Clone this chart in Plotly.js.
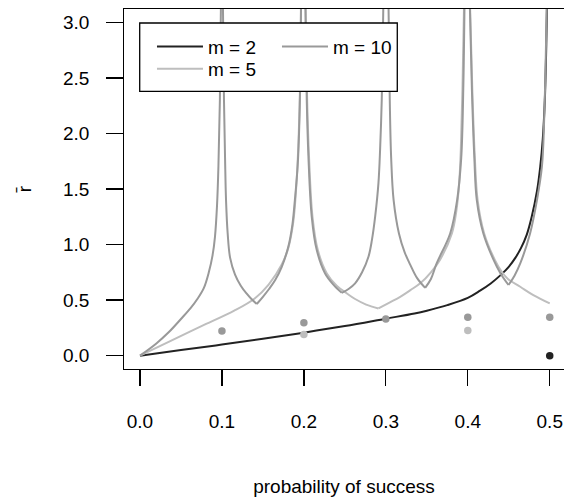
<!DOCTYPE html>
<html><head><meta charset="utf-8">
<script src="https://cdn.plot.ly/plotly-3.0.1.min.js"></script>
<style>html,body{margin:0;padding:0;background:#fff}#chart{width:564px;height:502px}</style>
</head><body><div id="chart"></div>
<script>
// m = 2 curve (value undefined at p = 0.5)
const p2 = [0, 0.05, 0.1, 0.15, 0.2, 0.25, 0.3, 0.335, 0.35, 0.375, 0.4, 0.415, 0.428, 0.44, 0.45, 0.458, 0.465, 0.472, 0.478, 0.4844, 0.4884, 0.4915, 0.494, 0.4958, 0.497, 0.5];
const r2 = [0, 0.05, 0.10, 0.152, 0.207, 0.266, 0.333, 0.38, 0.405, 0.455, 0.52, 0.585, 0.65, 0.725, 0.80, 0.88, 0.97, 1.09, 1.25, 1.48, 1.70, 1.95, 2.3, 2.8, 3.3, null];
// m = 5 curve, branches separated by null (spikes at 0.2, 0.4)
const p5 = [0, 0.035, 0.075, 0.115, 0.140, 0.157, 0.173, 0.181, 0.187, 0.1905, 0.193, 0.1955, 0.1965, 0.2,
  0.2018, 0.204, 0.2062, 0.2105, 0.217, 0.228, 0.24, 0.2525, 0.2625, 0.276, 0.291, 0.291,
  0.291, 0.305, 0.3175, 0.33, 0.342, 0.355, 0.366, 0.3806, 0.386, 0.3895, 0.3915, 0.3935, 0.3958, 0.4,
  0.4022, 0.4055, 0.4085, 0.412, 0.420, 0.433, 0.441, 0.449, 0.464, 0.480, 0.5];
const r5 = [0, 0.125, 0.265, 0.405, 0.515, 0.64, 0.82, 0.97, 1.2, 1.5, 1.85, 2.5, 3.3, null,
  3.3, 2.3, 1.80, 1.25, 0.95, 0.74, 0.63, 0.56, 0.51, 0.46, 0.425, null,
  0.425, 0.48, 0.53, 0.59, 0.651, 0.75, 0.862, 1.10, 1.30, 1.555, 1.856, 2.4, 3.3, null,
  3.3, 2.4, 1.80, 1.40, 1.10, 0.862, 0.76, 0.69, 0.62, 0.545, 0.47];
// m = 10 curve, branches separated by null (spikes at 0.1 ... 0.5, cusps between)
const p10 = [0, 0.02, 0.035, 0.05, 0.062, 0.07, 0.078, 0.084, 0.0885, 0.0915, 0.094, 0.0957, 0.0975, 0.099, 0.1,
  0.101, 0.1025, 0.1038, 0.105, 0.107, 0.110, 0.116, 0.123, 0.130, 0.136, 0.1425, 0.1425,
  0.1425, 0.150, 0.1575, 0.165, 0.173, 0.181, 0.186, 0.189, 0.1925, 0.195, 0.1967, 0.2,
  0.2016, 0.2035, 0.2055, 0.2096, 0.2157, 0.2259, 0.236, 0.2462, 0.2462,
  0.2462, 0.2545, 0.2625, 0.271, 0.2788, 0.283, 0.287, 0.291, 0.293, 0.295, 0.2972, 0.3,
  0.303, 0.3048, 0.3065, 0.3095, 0.316, 0.323, 0.3297, 0.338, 0.348, 0.348,
  0.348, 0.355, 0.362, 0.3785, 0.387, 0.392, 0.3945, 0.3962, 0.4,
  0.402, 0.405, 0.408, 0.411, 0.419, 0.4315, 0.4396, 0.4497, 0.4497,
  0.4497, 0.457, 0.464, 0.476, 0.4844, 0.4905, 0.4935, 0.4967, 0.5];
const r10 = [0, 0.11, 0.21, 0.33, 0.43, 0.51, 0.61, 0.75, 0.90, 1.07, 1.35, 1.7, 2.3, 3.3, null,
  3.3, 2.3, 1.78, 1.40, 1.10, 0.88, 0.73, 0.63, 0.56, 0.51, 0.465, null,
  0.465, 0.53, 0.60, 0.68, 0.80, 0.98, 1.18, 1.40, 1.72, 2.25, 3.3, null,
  3.3, 2.3, 1.80, 1.25, 0.95, 0.74, 0.64, 0.566, null,
  0.566, 0.60, 0.651, 0.75, 0.89, 1.04, 1.253, 1.555, 1.856, 2.3, 3.3, null,
  3.3, 2.3, 1.78, 1.40, 1.10, 0.93, 0.82, 0.70, 0.61, null,
  0.61, 0.69, 0.83, 1.10, 1.40, 1.78, 2.4, 3.3, null,
  3.3, 2.4, 1.78, 1.40, 1.10, 0.862, 0.745, 0.636, null,
  0.636, 0.72, 0.83, 1.10, 1.40, 1.705, 2.2, 3.3, null];
// points
const dotP2 = [0.5], dotR2 = [0];
const dotP5 = [0.2, 0.4], dotR5 = [0.19, 0.226];
const dotP10 = [0.1, 0.2, 0.3, 0.4, 0.5], dotR10 = [0.222, 0.297, 0.331, 0.346, 0.346];
const xTicks = [0, 0.1, 0.2, 0.3, 0.4, 0.5];
const xTickText = ['0.0', '0.1', '0.2', '0.3', '0.4', '0.5'];
const yTicks = [0, 0.5, 1, 1.5, 2, 2.5, 3];
const yTickText = ['0.0', '0.5', '1.0', '1.5', '2.0', '2.5', '3.0'];
const names = ['m = 2', 'm = 5', 'm = 10'];

const C2 = '#222222', C5 = '#bebebe', C10 = '#999999';
const FONT = 'Liberation Sans, Arial, Helvetica, sans-serif';

const traces = [
  {x: p2, y: r2, type: 'scatter', mode: 'lines', name: names[0], line: {color: C2, width: 2, shape: 'spline', smoothing: 1}, legend: 'legend', hoverinfo: 'skip'},
  {x: p5, y: r5, type: 'scatter', mode: 'lines', name: names[1], line: {color: C5, width: 2, shape: 'spline', smoothing: 1}, legend: 'legend3', hoverinfo: 'skip'},
  {x: p10, y: r10, type: 'scatter', mode: 'lines', name: names[2], line: {color: C10, width: 2, shape: 'spline', smoothing: 1}, legend: 'legend2', hoverinfo: 'skip'},
  {x: dotP2, y: dotR2, type: 'scatter', mode: 'markers', marker: {color: C2, size: 7.5}, showlegend: false},
  {x: dotP5, y: dotR5, type: 'scatter', mode: 'markers', marker: {color: C5, size: 7.5}, showlegend: false},
  {x: dotP10, y: dotR10, type: 'scatter', mode: 'markers', marker: {color: C10, size: 7.5}, showlegend: false}
];

const legBase = {xanchor: 'left', yanchor: 'middle', bgcolor: 'rgba(0,0,0,0)', borderwidth: 0,
  font: {family: FONT, size: 19, color: '#000'}, itemwidth: 46};

const layout = {
  width: 564, height: 502,
  margin: {l: 124, r: 0, t: 9, b: 133, pad: 0},
  paper_bgcolor: '#fff', plot_bgcolor: '#fff',
  font: {family: FONT, size: 19, color: '#000'},
  xaxis: {
    range: [-0.0195, 0.5174], tickvals: xTicks, ticktext: xTickText,
    ticks: 'outside', ticklen: 16, tickwidth: 1.3, tickcolor: '#000',
    showline: true, mirror: true, linewidth: 1.3, linecolor: '#000',
    showgrid: false, zeroline: false, ticklabelstandoff: 19,
    tickfont: {family: FONT, size: 19, color: '#000'},
    title: {text: 'probability of success', font: {family: FONT, size: 19, color: '#000'}, standoff: 48}
  },
  yaxis: {
    range: [-0.12, 3.12], tickvals: yTicks, ticktext: yTickText,
    ticks: 'outside', ticklen: 16.6, tickwidth: 1.3, tickcolor: '#000',
    showline: true, mirror: false, linewidth: 1.3, linecolor: '#000',
    showgrid: false, zeroline: false, ticklabelstandoff: 13,
    tickfont: {family: FONT, size: 19, color: '#000'},
    title: {text: 'r\u0304', font: {family: FONT, size: 19, color: '#000'}, standoff: 26}
  },
  legend: Object.assign({}, legBase, {x: 0.0636, y: 0.8953}),
  legend3: Object.assign({}, legBase, {x: 0.0636, y: 0.8333}),
  legend2: Object.assign({}, legBase, {x: 0.3477, y: 0.8953}),
  shapes: [{type: 'rect', xref: 'paper', yref: 'paper', x0: 0.0357, x1: 0.6211, y0: 0.7714, y1: 0.9611,
    fillcolor: '#fff', line: {color: '#000', width: 1.3}, layer: 'above'}],
  showlegend: true
};

Plotly.newPlot('chart', traces, layout, {displayModeBar: false, staticPlot: true});
</script></body></html>
